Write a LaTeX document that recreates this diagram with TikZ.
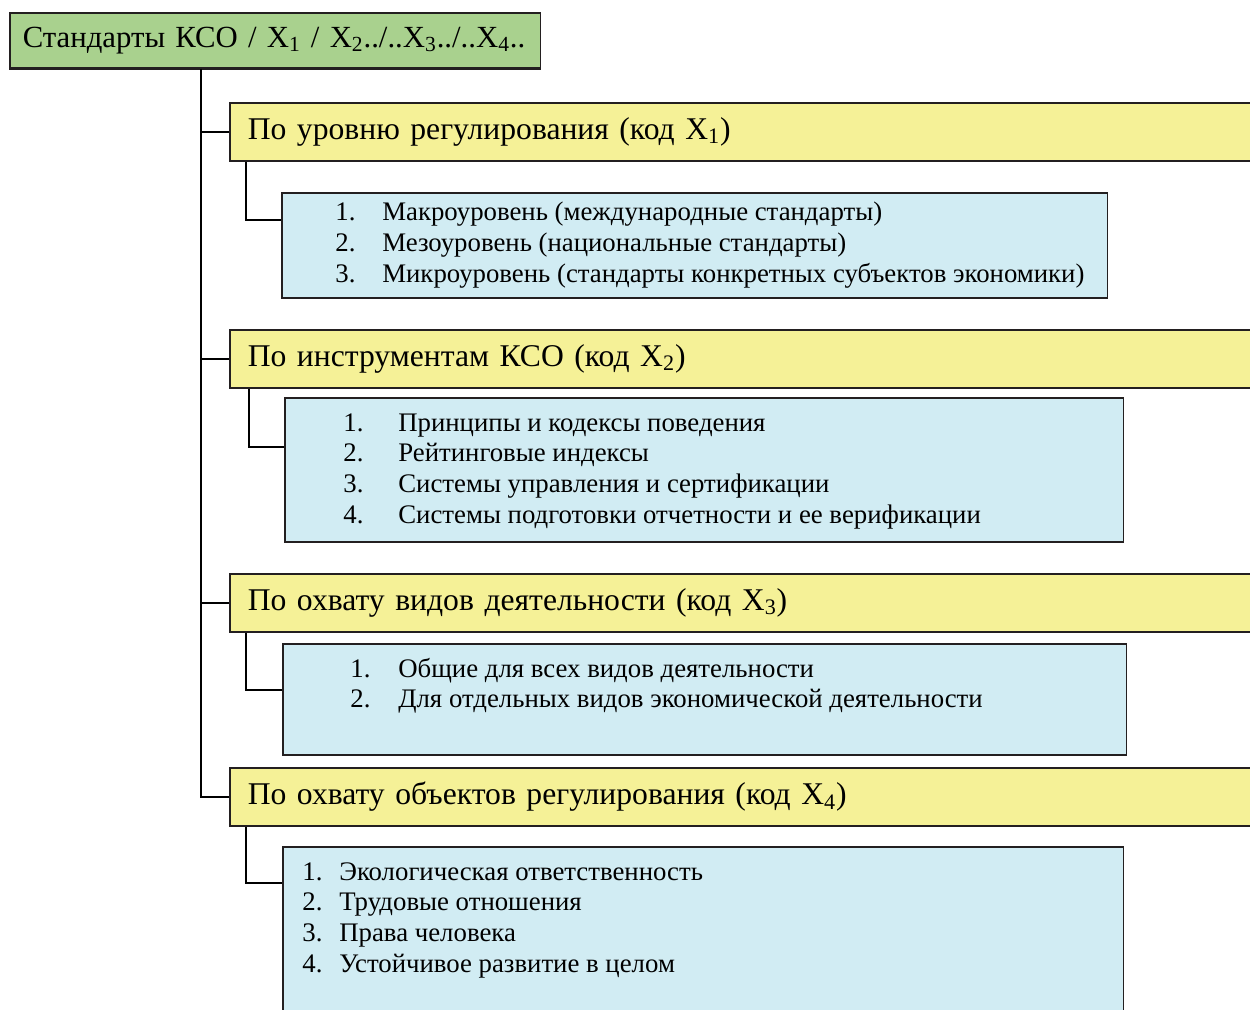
\documentclass[tikz,border=0pt]{standalone}
\usepackage{fontspec}
\setmainfont{Liberation Serif}
\usepackage{xcolor}
\usetikzlibrary{positioning, calc}

\definecolor{topgreen}{RGB}{169,209,142}
\definecolor{headyellow}{RGB}{245,241,151}
\definecolor{listblue}{RGB}{209,236,243}
\definecolor{edge}{RGB}{35,31,32}

\begin{document}
\begin{tikzpicture}[
        x=0.02cm, y=-0.02cm,
        rootbox/.style={rectangle, draw=edge, line width=0.9pt, fill=topgreen, anchor=north west, align=left, text width=10.1cm, inner xsep=0.26cm, minimum width=10.62cm, minimum height=1.1cm, font=\fontsize{17.5}{21}\selectfont},
        headbox/.style={rectangle, draw=edge, line width=0.9pt, fill=headyellow, anchor=north west, align=left, text width=20.1cm, inner xsep=0.36cm, minimum width=20.82cm, minimum height=1.16cm, font=\fontsize{18}{21}\selectfont},
        listbox/.style={rectangle, draw=edge, line width=0.9pt, fill=listblue, anchor=north west},
        listtext/.style={anchor=north west, inner sep=0pt, align=left, font=\fontsize{15.25}{17.6}\selectfont},
        link/.style={draw=black, line width=1.2pt}
    ]
    \clip (0,0) rectangle (1250,1010);
    \useasboundingbox (0,0) rectangle (1250,1010);

    % Root
    \node (top) [rootbox] at (9,12) {\mbox{Стандарты КСО / X\textsubscript{1} / X\textsubscript{2}../..X\textsubscript{3}../..X\textsubscript{4}..}};
    \draw [line width=2pt, edge] (top.south west) -- (top.south east);

    % Headings
    \node (h1) [headbox] at (229,102) {По уровню регулирования (код X\textsubscript{1})};
    \node (h2) [headbox] at (229,329) {По инструментам КСО (код X\textsubscript{2})};
    \node (h3) [headbox] at (229,573) {По охвату видов деятельности (код X\textsubscript{3})};
    \node (h4) [headbox] at (229,767) {По охвату объектов регулирования (код X\textsubscript{4})};

    % Lists
    \node (b1) [listbox, minimum width=16.52cm, minimum height=2.1cm] at (281,192) {};
    \node (t1) [listtext] at ([shift={(54,7)}]b1.north west) {%
        \begin{tabular}{@{}p{0.94cm}@{}l@{}}
        1. & Макроуровень (международные стандарты)\\
        2. & Мезоуровень (национальные стандарты)\\
        3. & Микроуровень (стандарты конкретных субъектов экономики)
        \end{tabular}};

    \node (b2) [listbox, minimum width=16.78cm, minimum height=2.88cm] at (284,397) {};
    \node (t2) [listtext] at ([shift={(59,12)}]b2.north west) {%
        \begin{tabular}{@{}p{1.1cm}@{}l@{}}
        1. & Принципы и кодексы поведения\\
        2. & Рейтинговые индексы\\
        3. & Системы управления и сертификации\\
        4. & Системы подготовки отчетности и ее верификации
        \end{tabular}};

    \node (b3) [listbox, minimum width=16.88cm, minimum height=2.22cm] at (282,643) {};
    \node (t3) [listtext] at ([shift={(68,12)}]b3.north west) {%
        \begin{tabular}{@{}p{0.96cm}@{}l@{}}
        1. & Общие для всех видов деятельности\\
        2. & Для отдельных видов экономической деятельности
        \end{tabular}};

    \node (b4) [listbox, minimum width=16.82cm, minimum height=3.68cm] at (282,846) {};
    \node (t4) [listtext] at ([shift={(20,12)}]b4.north west) {%
        \begin{tabular}{@{}p{0.74cm}@{}l@{}}
        1. & Экологическая ответственность\\
        2. & Трудовые отношения\\
        3. & Права человека\\
        4. & Устойчивое развитие в целом
        \end{tabular}};

    % Connectors
    \coordinate (trunk) at (201,0);
    \draw [link] (trunk |- top.south) |- (h4.west);
    \draw [link] (trunk |- h1.west) -- (h1.west);
    \draw [link] (trunk |- h2.west) -- (h2.west);
    \draw [link] (trunk |- h3.west) -- (h3.west);

    \draw [link] ([xshift=0.34cm]h1.south west) |- ([yshift=-0.56cm]b1.north west);
    \draw [link] ([xshift=0.4cm]h2.south west) |- ([yshift=-1.0cm]b2.north west);
    \draw [link] ([xshift=0.34cm]h3.south west) |- ([yshift=-0.94cm]b3.north west);
    \draw [link] ([xshift=0.34cm]h4.south west) |- ([yshift=-0.74cm]b4.north west);

\end{tikzpicture}
\end{document}
